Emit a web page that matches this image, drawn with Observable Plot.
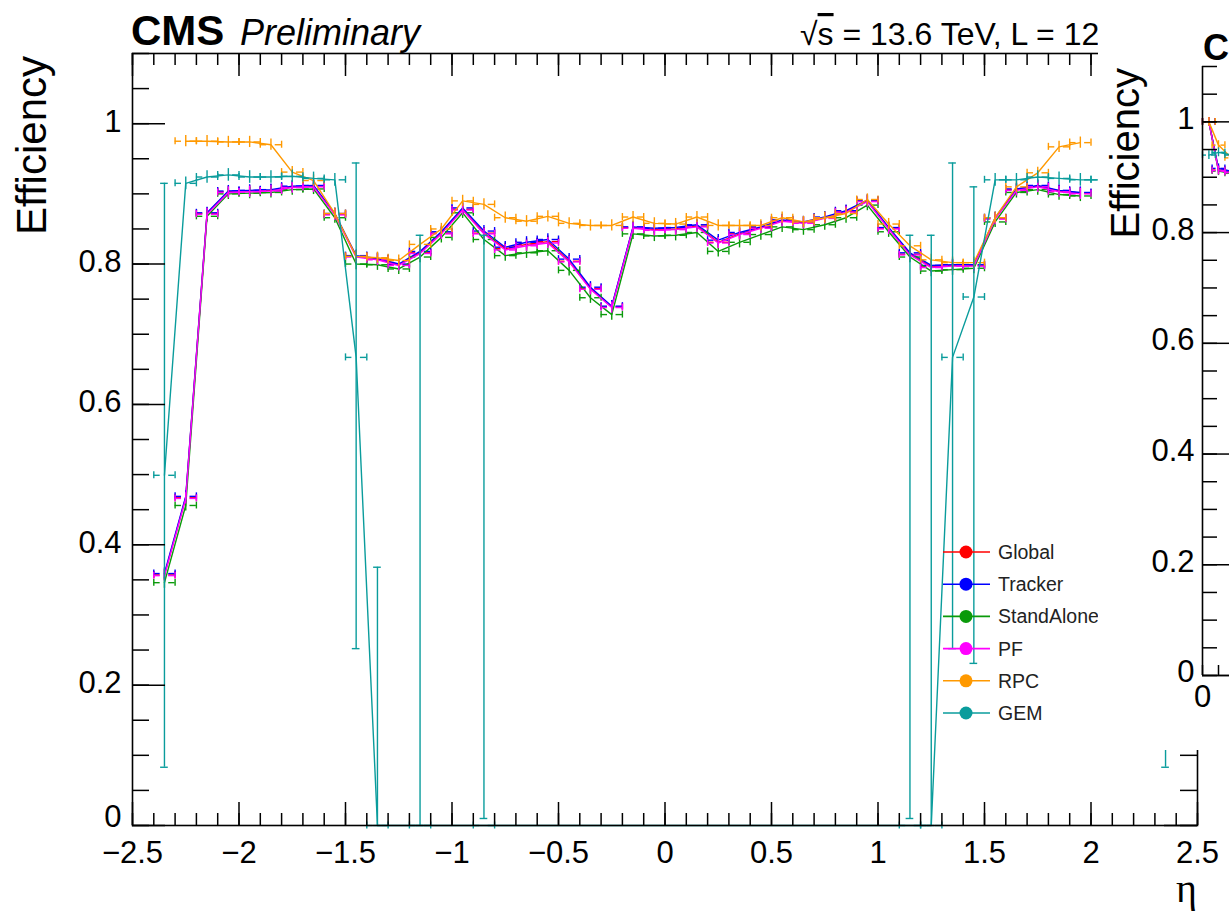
<!DOCTYPE html>
<html><head><meta charset="utf-8">
<script src="https://cdn.jsdelivr.net/npm/d3@7"></script>
<script src="https://cdn.jsdelivr.net/npm/@observablehq/plot@0.6"></script>
<style>
html,body{margin:0;padding:0;background:#fff;overflow:hidden;width:1229px;height:916px;}
#wrap{position:relative;width:1229px;height:916px;overflow:hidden;font-family:"Liberation Sans",Arial,sans-serif;}
#wrap > *{position:absolute;}
</style></head>
<body><div id="wrap"></div>
<script>
// ---------------- data (main panel: efficiency vs eta) ----------------
const etaMuon = [-2.35,-2.25,-2.15,-2.05,-1.95,-1.85,-1.75,-1.65,-1.55,-1.45,-1.35,-1.25,-1.15,-1.05,-0.95,-0.85,-0.75,-0.65,-0.55,-0.45,-0.35,-0.25,-0.15,-0.05,0.05,0.15,0.25,0.35,0.45,0.55,0.65,0.75,0.85,0.95,1.05,1.15,1.25,1.35,1.45,1.55,1.65,1.75,1.85,1.95];
const effGlobal = [0.357,0.467,0.872,0.903,0.904,0.905,0.910,0.911,0.871,0.811,0.807,0.799,0.816,0.844,0.878,0.844,0.822,0.828,0.832,0.804,0.765,0.739,0.852,0.849,0.850,0.854,0.831,0.843,0.852,0.862,0.859,0.866,0.875,0.890,0.851,0.814,0.796,0.798,0.798,0.865,0.906,0.911,0.904,0.901];
const effTracker = [0.359,0.469,0.873,0.904,0.905,0.906,0.911,0.912,0.872,0.812,0.808,0.800,0.818,0.846,0.880,0.847,0.824,0.831,0.835,0.807,0.767,0.740,0.853,0.851,0.852,0.856,0.834,0.845,0.853,0.863,0.860,0.867,0.876,0.891,0.852,0.816,0.798,0.799,0.799,0.866,0.907,0.912,0.905,0.902];
const effStandAlone = [0.346,0.456,0.868,0.900,0.901,0.902,0.906,0.907,0.866,0.800,0.799,0.793,0.810,0.838,0.873,0.835,0.812,0.816,0.819,0.791,0.752,0.728,0.843,0.840,0.841,0.845,0.818,0.831,0.842,0.853,0.849,0.856,0.866,0.884,0.846,0.810,0.790,0.792,0.794,0.860,0.902,0.906,0.899,0.897];
const effPF = [0.356,0.466,0.871,0.902,0.903,0.904,0.909,0.910,0.870,0.810,0.806,0.798,0.815,0.843,0.877,0.843,0.820,0.826,0.830,0.803,0.764,0.738,0.851,0.848,0.849,0.853,0.830,0.842,0.851,0.861,0.858,0.865,0.874,0.889,0.850,0.813,0.795,0.797,0.797,0.864,0.905,0.910,0.903,0.900];

const etaRPC = [-2.25,-2.15,-2.05,-1.95,-1.85,-1.75,-1.65,-1.55,-1.45,-1.35,-1.25,-1.15,-1.05,-0.95,-0.85,-0.75,-0.65,-0.55,-0.45,-0.35,-0.25,-0.15,-0.05,0.05,0.15,0.25,0.35,0.45,0.55,0.65,0.75,0.85,0.95,1.05,1.15,1.25,1.35,1.45,1.55,1.65,1.75,1.85,1.95];
const effRPC = [0.975,0.975,0.974,0.974,0.970,0.931,0.919,0.872,0.811,0.809,0.805,0.828,0.850,0.890,0.885,0.866,0.861,0.868,0.858,0.855,0.855,0.867,0.858,0.857,0.867,0.855,0.855,0.855,0.866,0.860,0.866,0.872,0.892,0.857,0.826,0.806,0.802,0.802,0.866,0.910,0.930,0.967,0.973];

const etaGEM = [-2.35,-2.25,-2.15,-2.05,-1.95,-1.85,-1.75,-1.65,-1.55,-1.45,-1.35,-1.15,-0.85,1.15,1.25,1.35,1.45,1.55,1.65,1.75,1.85,1.95,2.05,2.15,2.25,2.35];
const effGEM   = [0.499,0.915,0.924,0.927,0.924,0.924,0.925,0.922,0.920,0.667,0.000,0.000,0.000,0.000,0.000,0.667,0.753,0.920,0.920,0.924,0.922,0.920,0.920,0.920,0.915,0.500];
const effGEMlo = [0.083,0.906,0.915,0.918,0.915,0.915,0.916,0.913,0.911,0.252,0.000,0.000,0.010,0.010,0.000,0.252,0.231,0.911,0.911,0.915,0.913,0.911,0.911,0.911,0.906,0.083];
const effGEMhi = [0.915,0.924,0.933,0.936,0.933,0.933,0.934,0.931,0.929,0.944,0.368,0.841,0.841,0.841,0.841,0.944,0.910,0.929,0.929,0.933,0.931,0.929,0.929,0.929,0.924,0.915];

const statErr = 0.008;      // typical small vertical error
const binHalf = 0.05;       // half bin width in eta

const seriesNames  = ["Global","Tracker","StandAlone","PF","RPC","GEM"];
const seriesColors = ["#ff0000","#0000ff","#0a9a0a","#ff00ff","#ff9900","#0a9c9c"];

const xTicks = [-2.5,-2,-1.5,-1,-0.5,0,0.5,1,1.5,2,2.5];
const yTicks = [0.2,0.4,0.6,0.8,1];
const yZero = [0];

// ---------------- data (second, partially visible panel) ----------------
const p2x = [0.4,1.0,1.8];
const p2Global = [1.0,0.913,0.909];
const p2Tracker = [1.0,0.916,0.911];
const p2StandAlone = [1.0,0.911,0.907];
const p2PF = [1.0,0.912,0.908];
const p2RPC = [1.0,0.958,0.935];
const p2GEM = [0.940,0.945,0.940];
const p2yTicks = [0,0.2,0.4,0.6,0.8,1];

// ---------------- build tables ----------------
function rowsOf(name, etas, effs, los, his){
  return etas.map((e,i)=>({series:name, eta:e, eff:effs[i],
    lo: los ? los[i] : effs[i]-statErr, hi: his ? his[i] : effs[i]+statErr}));
}
const table = {
  Global: rowsOf("Global", etaMuon, effGlobal),
  Tracker: rowsOf("Tracker", etaMuon, effTracker),
  StandAlone: rowsOf("StandAlone", etaMuon, effStandAlone),
  PF: rowsOf("PF", etaMuon, effPF),
  RPC: rowsOf("RPC", etaRPC, effRPC),
  GEM: rowsOf("GEM", etaGEM, effGEM, effGEMlo, effGEMhi)
};

const W = 1229, H = 916;
const mL = 132, mR = 32, mT = 53, mB = 91;
const fW = W - mL - mR, fH = H - mT - mB;
const gap = 0.02, capH = 0.005, capW = 0.018;
const fmt = d => d < 0 ? "\u2212" + Math.abs(d) : String(d);

function seriesMarks(rows, color, half, gapX, capHy, capWx, sw){
  const big = rows.filter(d => d.hi - d.lo > 0.05);
  return [
    Plot.line(rows, {x:"eta", y:"eff", stroke:color, strokeWidth:sw}),
    Plot.ruleY(rows, {y:"eff", x1:d=>d.eta-half, x2:d=>d.eta-gapX, stroke:color, strokeWidth:sw}),
    Plot.ruleY(rows, {y:"eff", x1:d=>d.eta+gapX, x2:d=>d.eta+half, stroke:color, strokeWidth:sw}),
    Plot.ruleX(rows, {x:d=>d.eta-half, y1:d=>d.eff-capHy, y2:d=>d.eff+capHy, stroke:color, strokeWidth:sw}),
    Plot.ruleX(rows, {x:d=>d.eta+half, y1:d=>d.eff-capHy, y2:d=>d.eff+capHy, stroke:color, strokeWidth:sw}),
    Plot.ruleX(rows, {x:"eta", y1:"lo", y2:"hi", stroke:color, strokeWidth:sw}),
    Plot.ruleY(big, {y:"hi", x1:d=>d.eta-capWx, x2:d=>d.eta+capWx, stroke:color, strokeWidth:sw}),
    Plot.ruleY(big, {y:"lo", x1:d=>d.eta-capWx, x2:d=>d.eta+capWx, stroke:color, strokeWidth:sw})
  ];
}

const dataMarks = seriesNames.flatMap((n,i)=>seriesMarks(table[n], seriesColors[i], binHalf, gap, capH, capW, 1.4));

const xMinor = d3.range(-2.5, 2.5001, 0.1).map(v=>+v.toFixed(2));
const yMinor = d3.range(0, 1.1001, 0.05).map(v=>+v.toFixed(2));
const yMajor = [...yZero, ...yTicks];
const ax = "#000";

const main = Plot.plot({
  width: W, height: H,
  marginLeft: mL, marginRight: mR, marginTop: mT, marginBottom: mB,
  x: {domain: [-2.5, 2.5]},
  y: {domain: [0, 1.1]},
  style: {fontFamily: "'Liberation Sans', Arial, sans-serif", fontSize: "31px", background: "transparent", color: "#000"},
  marks: [
    ...dataMarks,
    // bottom ticks
    Plot.tickX(xMinor, {x:d=>d, insetTop: fH-12, stroke: ax, strokeWidth: 1.5}),
    Plot.tickX(xTicks, {x:d=>d, insetTop: fH-23, stroke: ax, strokeWidth: 1.5}),
    // top ticks
    Plot.tickX(xMinor, {x:d=>d, insetBottom: fH-12, stroke: ax, strokeWidth: 1.5}),
    Plot.tickX(xTicks, {x:d=>d, insetBottom: fH-23, stroke: ax, strokeWidth: 1.5}),
    // left ticks
    Plot.tickY(yMinor, {y:d=>d, insetRight: fW-17, stroke: ax, strokeWidth: 1.5}),
    Plot.tickY(yMajor, {y:d=>d, insetRight: fW-33, stroke: ax, strokeWidth: 1.5}),
    // right ticks
    Plot.tickY(yMinor, {y:d=>d, insetLeft: fW-17, stroke: ax, strokeWidth: 1.5}),
    Plot.tickY(yMajor, {y:d=>d, insetLeft: fW-33, stroke: ax, strokeWidth: 1.5}),
    Plot.frame({stroke: ax, strokeWidth: 1.6}),
    Plot.axisX(xTicks, {tickSize: 0, tickPadding: 15, tickFormat: fmt, label: null, fill: "#000"}),
    Plot.axisY(yTicks, {tickSize: 0, tickPadding: 11, tickFormat: fmt, label: null, fill: "#000", dy: -2}),
    Plot.axisY(yZero, {tickSize: 0, tickPadding: 11, tickFormat: fmt, label: null, fill: "#000", dy: -8})
  ]
});
main.style.left = "0px"; main.style.top = "0px";
const wrap = document.getElementById("wrap");
wrap.appendChild(main);

// ---------------- annotations for main panel ----------------
const ov = d3.create("svg").attr("width", W).attr("height", H)
  .style("left","0px").style("top","0px")
  .attr("font-family", "'Liberation Sans', Arial, sans-serif");
ov.append("text").attr("x",131).attr("y",45).attr("font-size",42).attr("font-weight","bold").text("CMS");
ov.append("text").attr("x",240).attr("y",45).attr("font-size",36).attr("font-style","italic").text("Preliminary");
const lumi = ov.append("text").attr("x",800).attr("y",45).attr("font-size",32);
lumi.append("tspan").text("\u221A");
lumi.append("tspan").attr("text-decoration","overline").text("s");
lumi.append("tspan").text(" = 13.6 TeV, L = 12");
ov.append("text").attr("transform","translate(46,56) rotate(-90)").attr("text-anchor","end")
  .attr("font-size",42).text("Efficiency");
ov.append("text").attr("x",1197).attr("y",902).attr("text-anchor","end")
  .attr("font-family","'Liberation Serif', 'DejaVu Serif', serif").attr("font-size",40).text("\u03B7");
// legend
const legY0 = 552, legDy = 32.2;
seriesNames.forEach((n,i)=>{
  const y = legY0 + i*legDy;
  ov.append("line").attr("x1",943).attr("x2",990).attr("y1",y).attr("y2",y).attr("stroke",seriesColors[i]).attr("stroke-width",1.6);
  ov.append("circle").attr("cx",966).attr("cy",y).attr("r",6.5).attr("fill",seriesColors[i]);
  ov.append("text").attr("x",998).attr("y",y+7).attr("font-size",19.5).attr("fill","#222").text(n);
});
wrap.appendChild(ov.node());

// ---------------- second (cut-off) panel ----------------
const P2L = 1098, P2W = 400, P2H = 750;
const p2mL = 104, p2mT = 66, p2mB = 75, p2mR = 20;
const p2fW = P2W - p2mL - p2mR, p2fH = P2H - p2mT - p2mB;
const p2Series = [p2Global, p2Tracker, p2StandAlone, p2PF, p2RPC, p2GEM];
const p2Marks = p2Series.flatMap((arr,i)=>{
  const rows = p2x.map((x,j)=>({eta:x, eff:arr[j], lo:arr[j]-statErr, hi:arr[j]+statErr}));
  return seriesMarks(rows, seriesColors[i], 0.4, 0.15, 0.006, 0.1, 1.4);
});
const p2xTicks = [0];
const p2xMinor = d3.range(0, 17, 1);
const p2yMinor = d3.range(0, 1.1001, 0.05).map(v=>+v.toFixed(2));
const panel2 = Plot.plot({
  width: P2W, height: P2H,
  marginLeft: p2mL, marginRight: p2mR, marginTop: p2mT, marginBottom: p2mB,
  x: {domain: [0, p2fW/16]},
  y: {domain: [0, 1.1]},
  style: {fontFamily: "'Liberation Sans', Arial, sans-serif", fontSize: "31px", background: "#fff", color: "#000", overflow: "visible"},
  marks: [
    ...p2Marks,
    Plot.tickX(p2xMinor, {x:d=>d, insetTop: p2fH-10, stroke: ax, strokeWidth: 1.5}),
    Plot.tickY(p2yMinor, {y:d=>d, insetRight: p2fW-15, stroke: ax, strokeWidth: 1.5}),
    Plot.tickY(p2yTicks, {y:d=>d, insetRight: p2fW-30, stroke: ax, strokeWidth: 1.5}),
    Plot.ruleX([0], {stroke: ax, strokeWidth: 1.6}),
    Plot.ruleY([0], {stroke: ax, strokeWidth: 1.6}),
    Plot.axisX(p2xTicks, {tickSize: 0, tickPadding: 9, tickFormat: fmt, label: null, fill: "#000"}),
    Plot.axisY(p2yTicks, {tickSize: 0, tickPadding: 8, tickFormat: fmt, label: null, fill: "#000", dy: -3})
  ]
});
const p2box = document.createElement("div");
p2box.style.left = P2L + "px"; p2box.style.top = "0px";
p2box.style.width = P2W + "px"; p2box.style.height = P2H + "px";
p2box.style.background = "#fff";
panel2.style.position = "absolute"; panel2.style.left = "0px"; panel2.style.top = "0px";
p2box.appendChild(panel2);
const ov2 = d3.create("svg").attr("width", P2W).attr("height", P2H)
  .style("position","absolute").style("left","0px").style("top","0px")
  .attr("font-family", "'Liberation Sans', Arial, sans-serif");
ov2.append("text").attr("x",1203-P2L).attr("y",60).attr("font-size",36).attr("font-weight","bold").text("C");
ov2.append("text").attr("transform",`translate(${1139-P2L},68) rotate(-90)`).attr("text-anchor","end")
  .attr("font-size",40).text("Efficiency");
p2box.appendChild(ov2.node());
wrap.appendChild(p2box);
</script>
</body></html>
